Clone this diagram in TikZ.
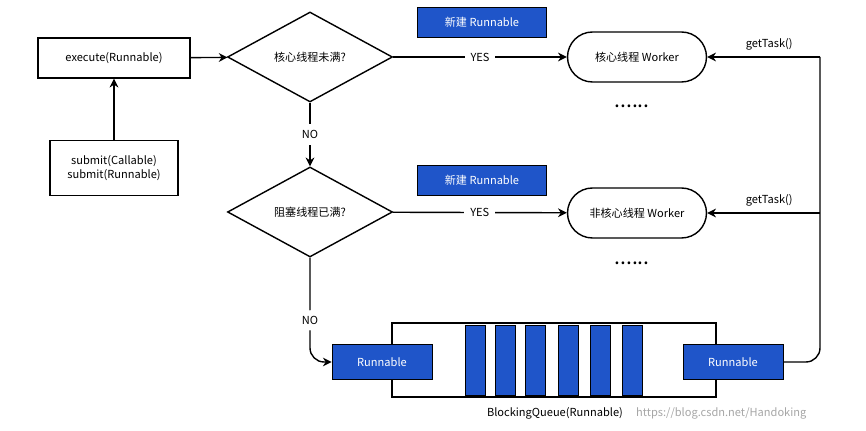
\documentclass[tikz,border=0pt]{standalone}
\usepackage{fontspec}
\setmainfont{Noto Sans CJK SC}
\usetikzlibrary{shapes.geometric,arrows.meta}
\definecolor{qblue}{HTML}{1F55C9}
\begin{document}
\begin{tikzpicture}[x=0.02cm,y=-0.02cm,font=\fontsize{6.3}{7.5}\selectfont,
  box/.style={draw,thick,rectangle,minimum width=3.04cm,minimum height=0.8cm},
  dia/.style={draw,thick,diamond,aspect=1.83,minimum width=3.3cm,minimum height=1.8cm,inner sep=0pt},
  blue/.style={draw=black,fill=qblue,text=white,minimum width=2.58cm,minimum height=0.6cm},
  qb/.style={draw=black,fill=qblue,text=white,minimum width=2cm,minimum height=0.7cm},
  bar/.style={draw=black,fill=qblue,minimum width=0.4cm,minimum height=1.4cm,inner sep=0pt},
  wk/.style={draw,thick,rounded corners=0.5cm,minimum width=2.78cm,minimum height=1cm},
  arr/.style={thick,-{Stealth[length=5pt,width=5pt]}}]
\useasboundingbox (0,0) rectangle (866,431);
\node[box] (exe) at (114,58) {execute(Runnable)};
\node[box,minimum width=2.56cm,minimum height=1.1cm,align=center] (sub) at (114,168) {submit(Callable)\\submit(Runnable)};
\node[dia] (d1) at (310,57) {核心线程未满?};
\node[dia] (d2) at (310,212) {阻塞线程已满?};
\node[blue] (n1) at (482,22) {新建 Runnable};
\node[blue] (n2) at (482,180) {新建 Runnable};
\node[wk] (w1) at (637,57) {核心线程 Worker};
\node[wk] (w2) at (637,213) {非核心线程 Worker};
\node (dots1) at (632,106) {\large ......};
\node (dots2) at (632,263) {\large ......};
\node[draw,thick,minimum width=6.48cm,minimum height=1.48cm] (q) at (554,360) {};
\foreach \i/\x in {1/475,2/505,3/535,4/568,5/600,6/632} \node[bar] (b\i) at (\x,360) {};
\node[qb] (r1) at (382,362) {Runnable};
\node[qb] (r2) at (733,362) {Runnable};
\node (ql) at (555,413) {BlockingQueue(Runnable)};
\node[text=gray!70,anchor=west] (wm) at (630,413) {https://blog.csdn.net/Handoking};
\coordinate (c1) at (310,362);
\coordinate (c2) at (820,362);
\coordinate (c3) at (820,57);
\coordinate (c4) at (820,213);
\draw[arr] (sub) -- (exe);
\draw[arr] (exe) -- (d1);
\draw[arr] (d1) -- node[fill=white]{NO} (d2);
\draw[arr] (d1) -- node[fill=white]{YES} (w1);
\draw[arr] (d2) -- node[fill=white]{YES} (w2);
\draw[arr,rounded corners=8pt] (d2.south) -- node[fill=white,pos=0.6]{NO} (c1) -- (r1.west);
\draw[thick,rounded corners=8pt] (r2.east) -- (c2) -- (c3);
\draw[arr] (c3) -- node[above,pos=0.45]{getTask()} (w1.east);
\draw[arr] (c4) -- node[above,pos=0.45]{getTask()} (w2.east);
\end{tikzpicture}
\end{document}
